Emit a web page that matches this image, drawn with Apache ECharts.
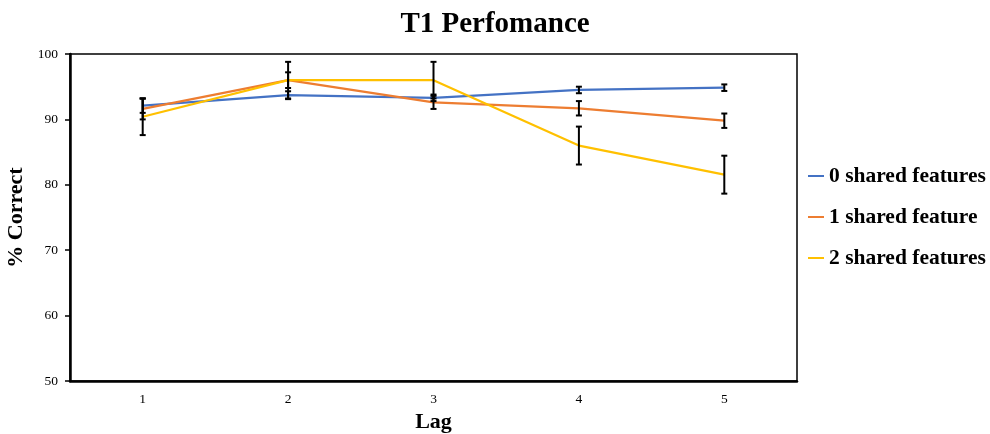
<!DOCTYPE html>
<html>
<head>
<meta charset="utf-8">
<script src="https://cdn.jsdelivr.net/npm/echarts@6/dist/echarts.min.js"></script>
<style>html,body{margin:0;padding:0;background:#fff}#c{width:990px;height:434px}</style>
</head>
<body>
<div id="c"></div>
<script>
var categories = ['1', '2', '3', '4', '5'];
var seriesNames = ['0 shared features', '1 shared feature', '2 shared features'];
var values0 = [92.1, 93.7, 93.3, 94.5, 94.85];
var values1 = [91.6, 96.0, 92.6, 91.7, 89.8];
var values2 = [90.4, 96.0, 96.0, 86.0, 81.55];
var errors0 = [1.1, 0.6, 0.5, 0.5, 0.5];
var errors1 = [1.6, 1.2, 1.0, 1.1, 1.1];
var errors2 = [2.8, 2.8, 2.8, 2.9, 2.9];
var colors = ['#4472C4', '#ED7D31', '#FFC000'];

var allValues = [values0, values1, values2];
var allErrors = [errors0, errors1, errors2];
var FONT = '"Liberation Serif", "DejaVu Serif", serif';

function errData(vals, errs) {
  return vals.map(function (v, i) { return [i, v - errs[i], v + errs[i]]; });
}

function renderErr(params, api) {
  var lo = api.coord([api.value(0), api.value(1)]);
  var hi = api.coord([api.value(0), api.value(2)]);
  var w = 3;
  var st = { stroke: '#000', lineWidth: 2 };
  return {
    type: 'group',
    children: [
      { type: 'line', shape: { x1: lo[0], y1: lo[1], x2: hi[0], y2: hi[1] }, style: st },
      { type: 'line', shape: { x1: lo[0] - w, y1: lo[1], x2: lo[0] + w, y2: lo[1] }, style: st },
      { type: 'line', shape: { x1: hi[0] - w, y1: hi[1], x2: hi[0] + w, y2: hi[1] }, style: st }
    ]
  };
}

var series = [];
seriesNames.forEach(function (n, k) {
  series.push({
    name: n, type: 'line', data: allValues[k], symbol: 'none',
    lineStyle: { color: colors[k], width: 2.2 }, itemStyle: { color: colors[k] }, z: 2
  });
});
seriesNames.forEach(function (n, k) {
  series.push({
    name: n + ' err', type: 'custom', data: errData(allValues[k], allErrors[k]),
    renderItem: renderErr, encode: { x: 0, y: [1, 2] }, z: 5, silent: true
  });
});

var chart = echarts.init(document.getElementById('c'));
chart.setOption({
  animation: false,
  backgroundColor: '#fff',
  title: {
    text: 'T1 Perfomance', left: 'center', top: 5,
    textStyle: { fontFamily: FONT, fontWeight: 'bold', fontSize: 29, color: '#000' }
  },
  legend: {
    data: seriesNames, orient: 'vertical', left: 808, top: 165, padding: 0,
    itemWidth: 16, itemHeight: 2, itemGap: 19, icon: 'rect',
    textStyle: { fontFamily: FONT, fontWeight: 'bold', fontSize: 21.5, color: '#000', lineHeight: 22 }
  },
  grid: {
    left: 70, right: 193, top: 54, bottom: 53,
    containLabel: false, outerBoundsMode: 'none',
    show: true, borderColor: '#000', borderWidth: 1.5, backgroundColor: 'transparent'
  },
  xAxis: {
    type: 'category', data: categories, boundaryGap: true,
    name: 'Lag', nameLocation: 'middle', nameGap: 27,
    nameTextStyle: { fontFamily: FONT, fontWeight: 'bold', fontSize: 22, color: '#000' },
    axisLine: { lineStyle: { color: '#000', width: 2.5 } },
    axisTick: { alignWithLabel: true, length: 5, lineStyle: { color: '#000', width: 1.5 } },
    axisLabel: { fontFamily: FONT, fontSize: 13.5, color: '#000', margin: 11 },
    splitLine: { show: false }
  },
  yAxis: {
    type: 'value', min: 50, max: 100, interval: 10,
    name: '% Correct', nameLocation: 'middle', nameGap: 35, nameRotate: 90,
    nameTextStyle: { fontFamily: FONT, fontWeight: 'bold', fontSize: 22, color: '#000' },
    axisLine: { show: true, lineStyle: { color: '#000', width: 2.5 } },
    axisTick: { show: true, length: 5, lineStyle: { color: '#000', width: 1.5 } },
    axisLabel: { fontFamily: FONT, fontSize: 13.5, color: '#000', margin: 12 },
    splitLine: { show: false }
  },
  series: series
});
</script>
</body>
</html>
